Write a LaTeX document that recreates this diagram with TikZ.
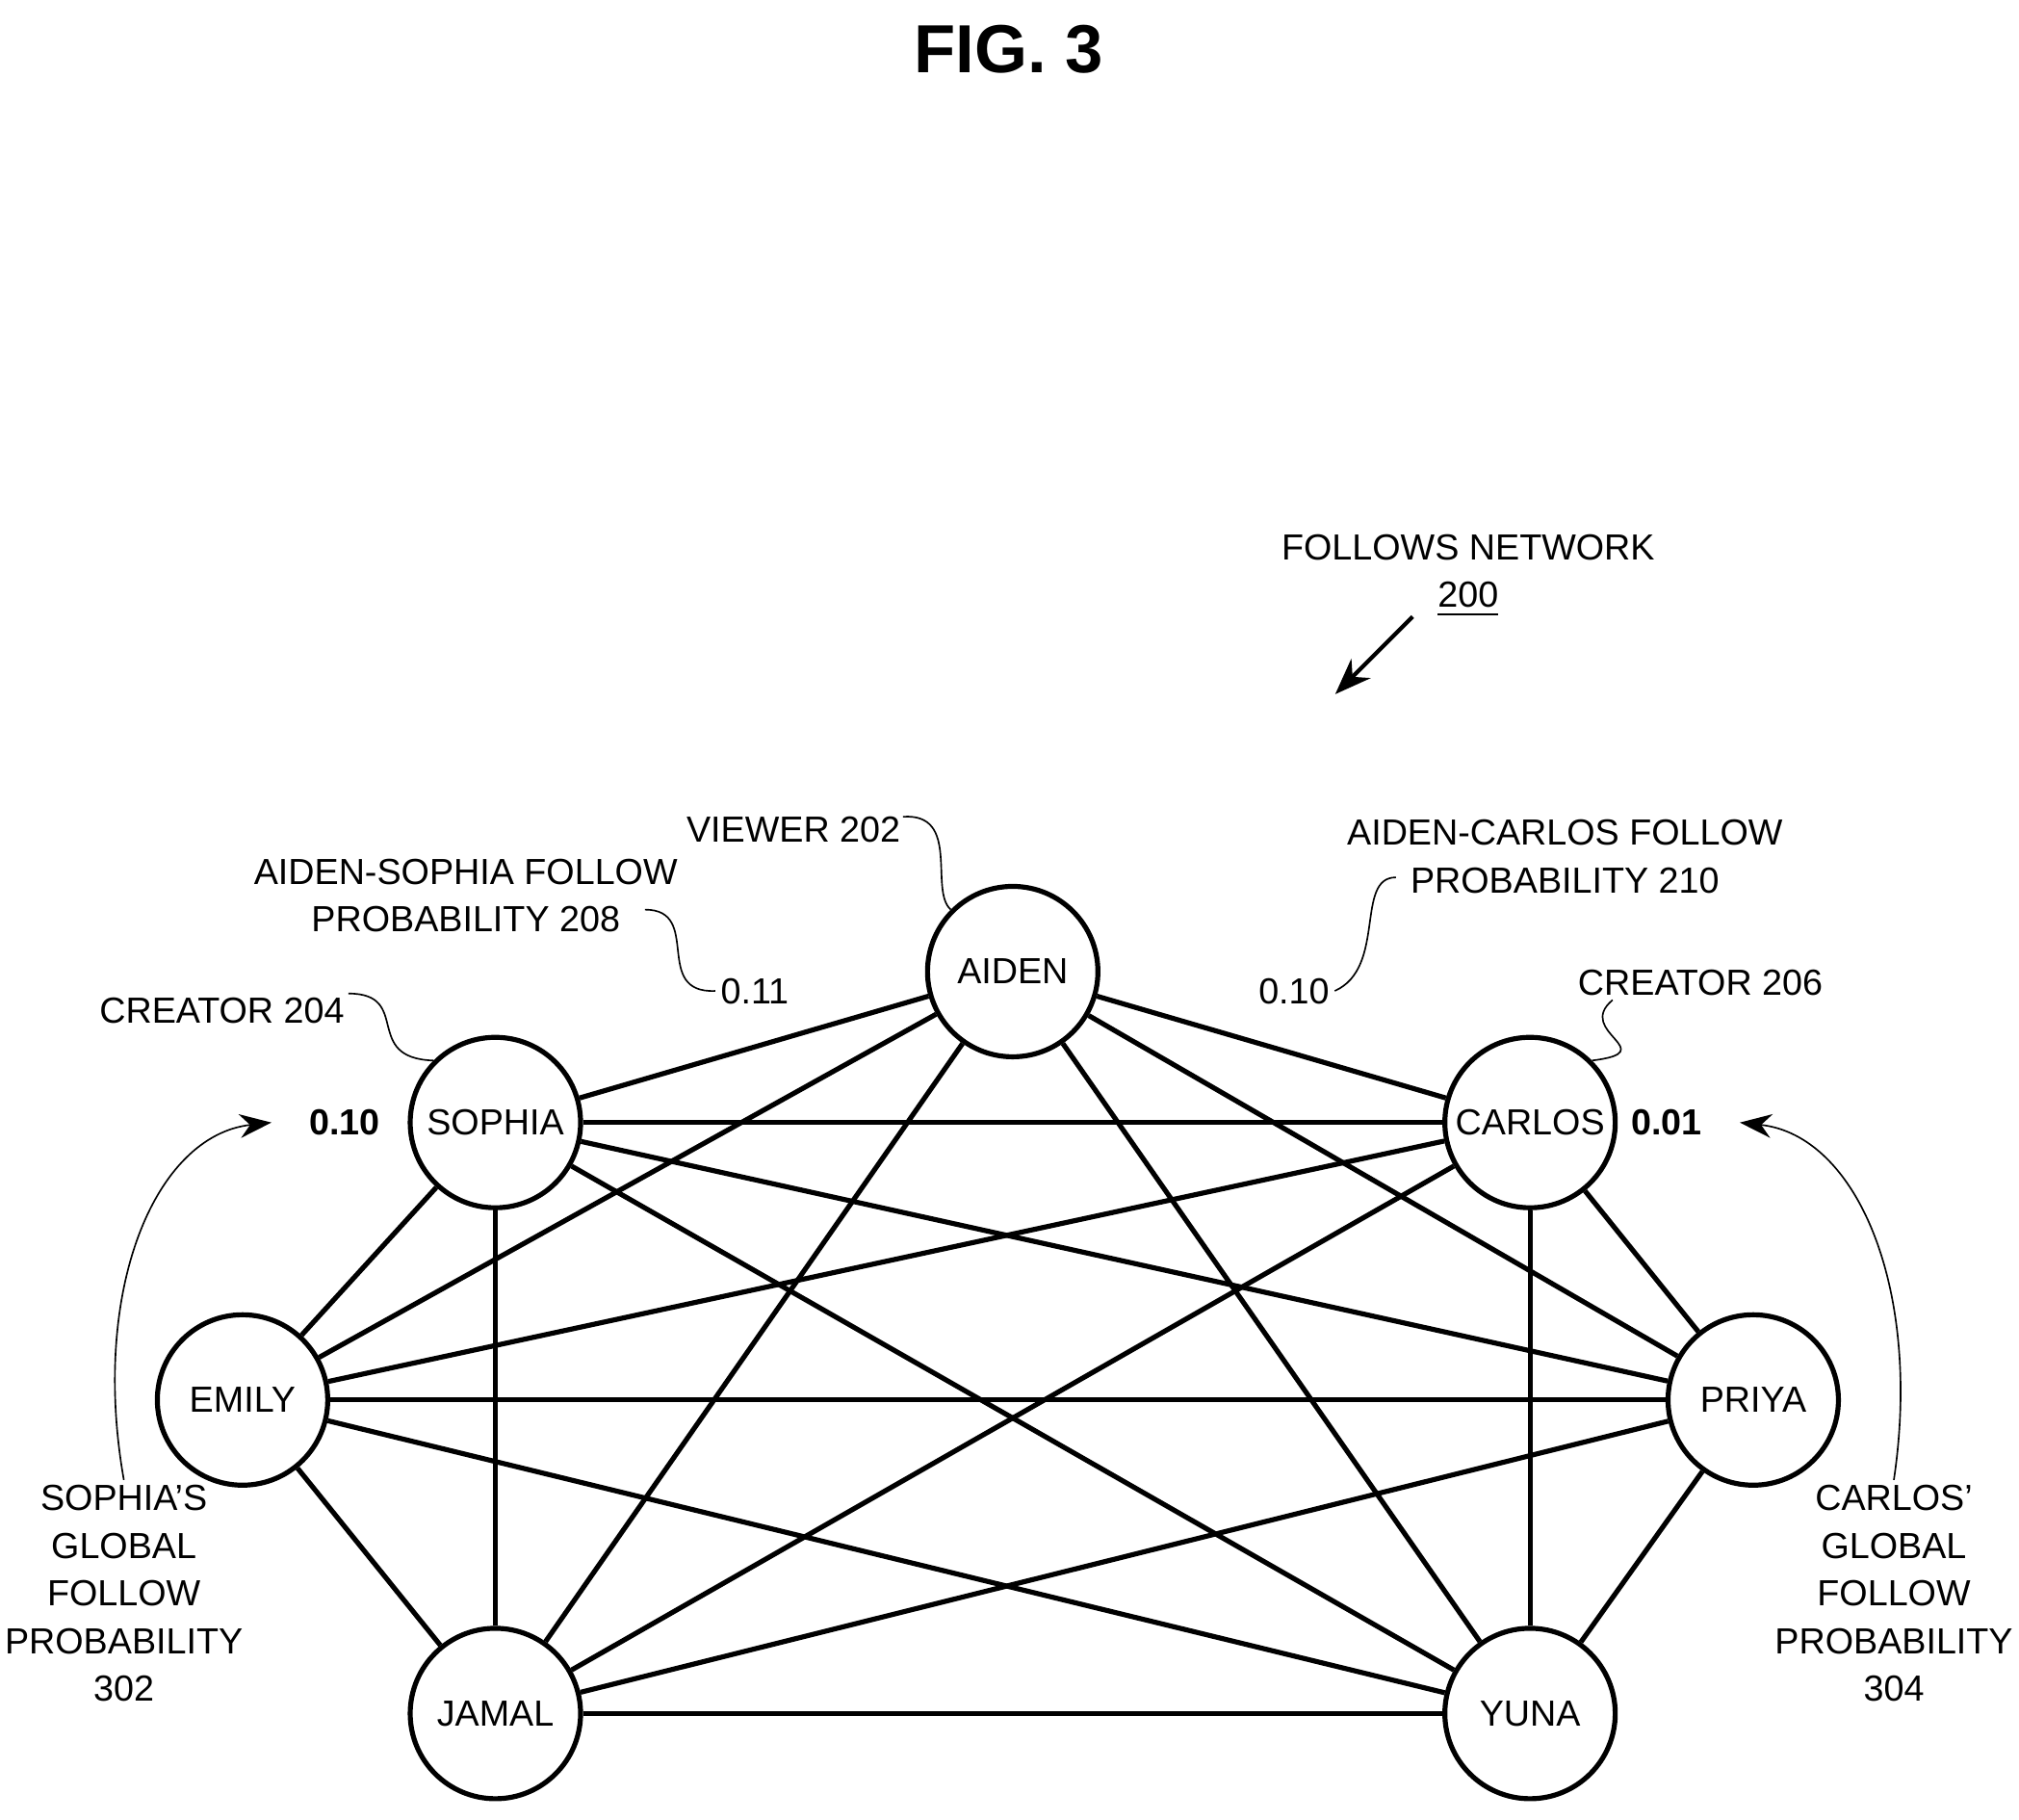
\documentclass[tikz,border=0pt]{standalone}
\usepackage{fontspec}
\setmainfont{Liberation Sans}
\usetikzlibrary{arrows.meta}
\begin{document}
\begin{tikzpicture}[x=0.01cm,y=-0.01cm,
	user/.style={circle, draw, line width=1.1pt, minimum size=1.32cm, inner sep=0pt, font=\fontsize{8}{9.6}\selectfont},
	lbl/.style={font=\fontsize{8}{10.5}\selectfont, align=center, inner sep=1pt},
	lead/.style={draw, line width=0.35pt}]
	\useasboundingbox (0,0) rectangle (1565,1410);
	% Title
	\node[font=\bfseries\fontsize{15}{18}\selectfont] (fig) at (782,38) {FIG. 3};
	% Users
	\node[user] (aiden) at (785,753) {AIDEN};
	\node[user] (sophia) at (384,870) {SOPHIA};
	\node[user] (carlos) at (1186,870) {CARLOS};
	\node[user] (emily) at (188,1085) {EMILY};
	\node[user] (priya) at (1359,1085) {PRIYA};
	\node[user] (jamal) at (384,1328) {JAMAL};
	\node[user] (yuna) at (1186,1328) {YUNA};
	% Follow edges
	\foreach \a/\b in {aiden/sophia, aiden/carlos, aiden/emily, aiden/priya, aiden/jamal, aiden/yuna,
		sophia/carlos, sophia/emily, sophia/priya, sophia/jamal, sophia/yuna,
		carlos/emily, carlos/priya, carlos/jamal, carlos/yuna,
		emily/priya, emily/jamal, emily/yuna,
		priya/jamal, priya/yuna, jamal/yuna}
		\draw[line width=1.1pt] (\a) -- (\b);
	% Network label
	\node[lbl] (net) at (1138,446) {FOLLOWS NETWORK\\\underline{200}};
	\coordinate (nettip) at (1035,538);
	\draw[line width=0.9pt, -{Stealth[length=8pt]}] (1095,478) -- (nettip);
	% Viewer and creators
	\node[lbl] (viewer) at (615,643) {VIEWER 202};
	\draw[lead] (700,633) .. controls (745,630) and (720,690) .. (aiden.north west);
	\node[lbl] (cr204) at (172,783) {CREATOR 204};
	\draw[lead] (270,770) .. controls (320,770) and (280,820) .. (sophia.north west);
	\node[lbl] (cr206) at (1318,762) {CREATOR 206};
	\draw[lead] (1250,775) .. controls (1220,800) and (1290,815) .. (carlos.north east);
	% Pair probabilities
	\node[lbl] (as) at (361,694) {AIDEN-SOPHIA FOLLOW\\PROBABILITY 208};
	\node[lbl] (p011) at (585,768) {0.11};
	\draw[lead] (500,705) .. controls (545,705) and (505,770) .. (p011.west);
	\node[lbl] (ac) at (1213,664) {AIDEN-CARLOS FOLLOW\\PROBABILITY 210};
	\node[lbl] (p010) at (1003,768) {0.10};
	\draw[lead] (1082,680) .. controls (1050,680) and (1075,750) .. (p010.east);
	% Global probabilities
	\node[lbl, font=\bfseries\fontsize{8}{10.5}\selectfont] (gs) at (267,870) {0.10};
	\node[lbl, font=\bfseries\fontsize{8}{10.5}\selectfont] (gc) at (1292,870) {0.01};
	\node[lbl] (sg) at (96,1235) {SOPHIA'S\\GLOBAL\\FOLLOW\\PROBABILITY\\302};
	\node[lbl] (cg) at (1468,1235) {CARLOS'\\GLOBAL\\FOLLOW\\PROBABILITY\\304};
	\draw[lead, -{Stealth[length=7pt]}] (sg.north) .. controls (70,1000) and (120,880) .. ([xshift=-0.25cm]gs.west);
	\draw[lead, -{Stealth[length=7pt]}] (cg.north) .. controls (1490,1000) and (1440,880) .. ([xshift=0.25cm]gc.east);
\end{tikzpicture}
\end{document}
